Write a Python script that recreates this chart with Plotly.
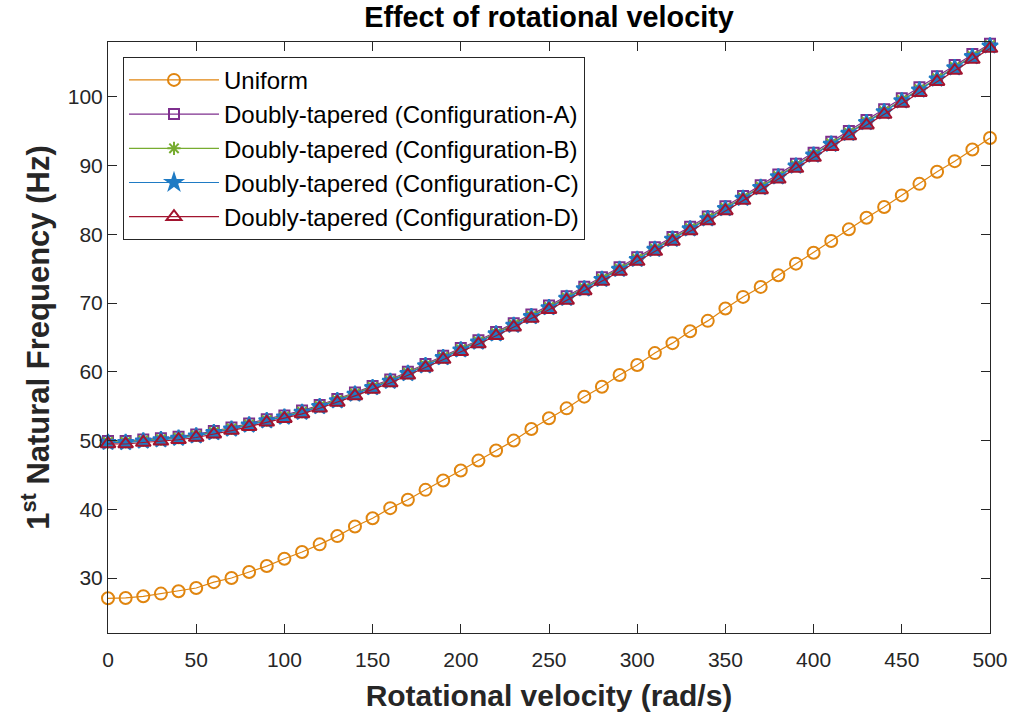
import plotly.graph_objects as go

omega = list(range(0, 501, 10))

uniform = [27.05, 27.10, 27.34, 27.73, 28.07, 28.55, 29.40, 30.00, 30.87, 31.74,
           32.80, 33.78, 34.90, 36.10, 37.50, 38.70, 40.17, 41.38, 42.83, 44.19,
           45.64, 47.09, 48.55, 50.00, 51.69, 53.24, 54.69, 56.39, 57.84, 59.54,
           60.99, 62.73, 64.18, 65.92, 67.42, 69.21, 70.91, 72.36, 74.06, 75.75,
           77.34, 79.04, 80.74, 82.43, 83.98, 85.68, 87.36, 89.11, 90.66, 92.36,
           94.04]

config_d = [49.52, 49.50, 49.72, 49.90, 50.12, 50.45, 50.93, 51.45, 52.03, 52.65,
            53.18, 53.88, 54.70, 55.55, 56.50, 57.45, 58.37, 59.50, 60.62, 61.80,
            62.92, 64.05, 65.25, 66.50, 67.75, 69.05, 70.40, 71.78, 73.15, 74.60,
            76.05, 77.50, 78.98, 80.48, 81.95, 83.42, 84.92, 86.48, 88.02, 89.58,
            91.18, 92.75, 94.32, 95.90, 97.45, 99.05, 100.62, 102.22, 103.85, 105.45,
            107.05]

config_a = [49.95, 49.95, 50.15, 50.35, 50.57, 50.90, 51.38, 51.90, 52.50, 53.12,
            53.65, 54.36, 55.18, 56.05, 57.00, 57.96, 58.88, 60.02, 61.15, 62.33,
            63.46, 64.60, 65.81, 67.07, 68.33, 69.64, 71.00, 72.38, 73.76, 75.22,
            76.68, 78.14, 79.63, 81.13, 82.61, 84.09, 85.60, 87.17, 88.72, 90.29,
            91.90, 93.48, 95.06, 96.65, 98.21, 99.82, 101.40, 103.01, 104.65, 106.26,
            107.75]

config_b = [49.82, 49.81, 50.03, 50.21, 50.43, 50.77, 51.25, 51.78, 52.36, 52.99,
            53.52, 54.22, 55.05, 55.90, 56.86, 57.81, 58.73, 59.87, 60.99, 62.18,
            63.30, 64.43, 65.64, 66.89, 68.14, 69.45, 70.80, 72.19, 73.56, 75.02,
            76.47, 77.93, 79.41, 80.92, 82.39, 83.87, 85.37, 86.94, 88.49, 90.05,
            91.66, 93.23, 94.81, 96.40, 97.95, 99.56, 101.14, 102.74, 104.38, 105.99,
            107.55]

config_c = [49.72, 49.71, 49.93, 50.11, 50.33, 50.67, 51.15, 51.67, 52.26, 52.88,
            53.41, 54.11, 54.94, 55.79, 56.74, 57.70, 58.62, 59.75, 60.88, 62.06,
            63.18, 64.32, 65.52, 66.77, 68.03, 69.33, 70.69, 72.07, 73.44, 74.90,
            76.35, 77.81, 79.29, 80.80, 82.27, 83.75, 85.25, 86.82, 88.37, 89.93,
            91.53, 93.11, 94.69, 96.27, 97.83, 99.43, 101.01, 102.61, 104.25, 105.86,
            107.42]

names = ["Uniform",
         "Doubly-tapered (Configuration-A)",
         "Doubly-tapered (Configuration-B)",
         "Doubly-tapered (Configuration-C)",
         "Doubly-tapered (Configuration-D)"]
series = [uniform, config_a, config_b, config_c, config_d]
colors = ["#E0850F", "#7E2F8E", "#77AC30", "#1F7BC4", "#A2142F"]
symbols = ["circle-open", "square-open", "asterisk-open", "star", "triangle-up-open"]
sizes = [12, 10, 11, 12, 13]

FONT = "Liberation Sans, Arial, sans-serif"

fig = go.Figure()
for name, ys, col, sym, sz in zip(names, series, colors, symbols, sizes):
    fig.add_trace(go.Scatter(
        x=omega, y=ys, name=name, mode="lines+markers",
        line=dict(color=col, width=1.2),
        marker=dict(symbol=sym, size=sz, color=col,
                    line=dict(color=col, width=2)),
        cliponaxis=False,
    ))

axis_common = dict(
    showline=True, linecolor="#262626", linewidth=1, mirror="ticks",
    ticks="inside", ticklen=9, tickwidth=1.2, tickcolor="#262626",
    showgrid=False, zeroline=False,
    tickfont=dict(family=FONT, size=21, color="#262626"),
)

fig.update_layout(
    width=1020, height=721,
    paper_bgcolor="white", plot_bgcolor="white",
    margin=dict(l=108, r=25, t=42, b=88),
    title=dict(text="<b>Effect of rotational velocity</b>", x=0.5, xref="paper",
               xanchor="center", y=0.976, yanchor="middle",
               font=dict(family=FONT, size=28.8, color="black")),
    xaxis=dict(range=[0, 500], tickvals=list(range(0, 501, 50)),
               ticklabelstandoff=8,
               title=dict(text="<b>Rotational velocity (rad/s)</b>", standoff=14,
                          font=dict(family=FONT, size=30, color="#262626")),
               **axis_common),
    yaxis=dict(range=[22, 108], tickvals=list(range(30, 101, 10)),
               title=dict(text="<b>1<sup>st</sup> Natural Frequency (Hz)</b>", standoff=8,
                          font=dict(family=FONT, size=31, color="#262626")),
               **axis_common),
    legend=dict(x=0.017, y=0.975, xanchor="left", yanchor="top",
                bgcolor="white", bordercolor="#262626", borderwidth=1,
                font=dict(family=FONT, size=24, color="black"),
                tracegroupgap=0, itemwidth=90),
    showlegend=True,
)

fig.write_html("out.html")
